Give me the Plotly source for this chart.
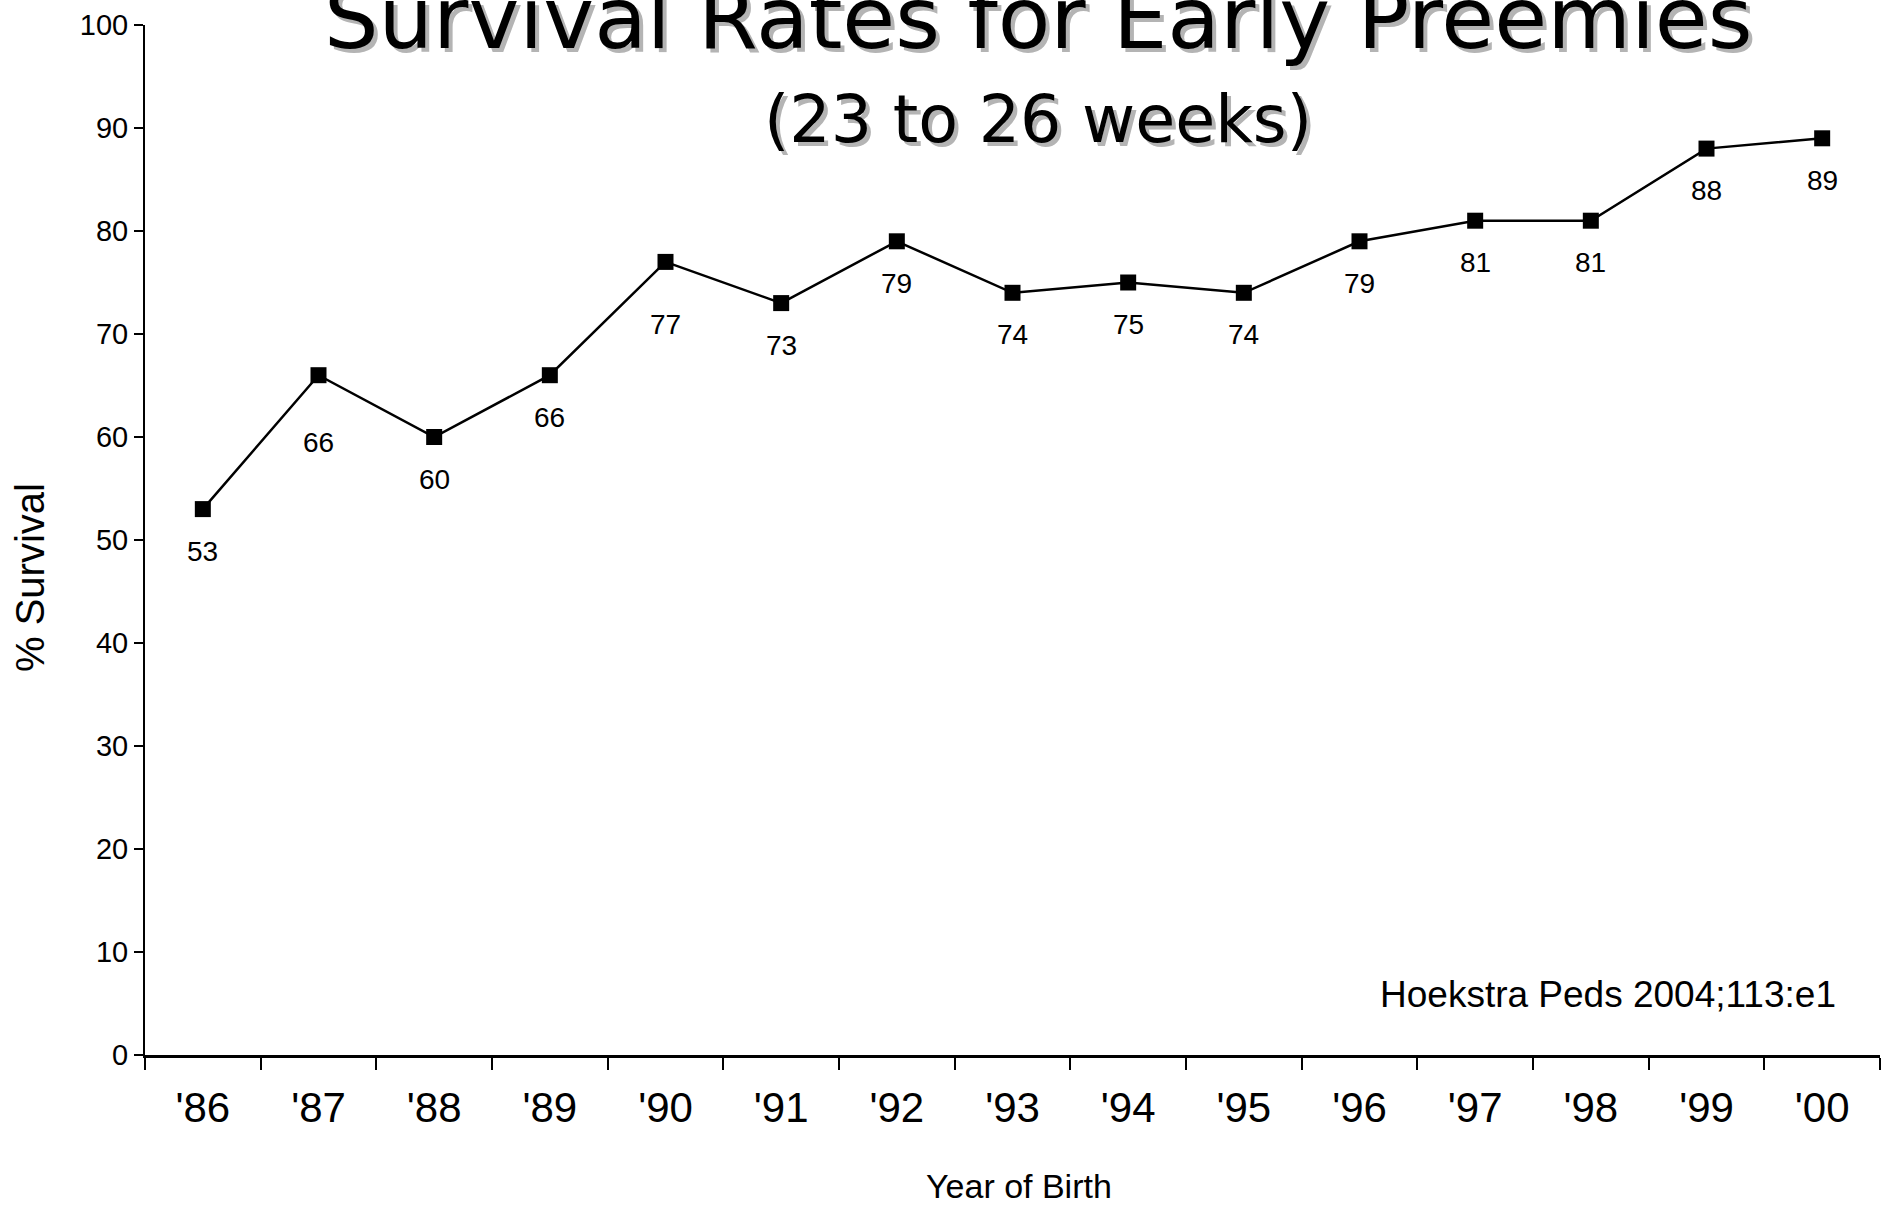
import plotly.graph_objects as go

years = ["'86", "'87", "'88", "'89", "'90", "'91", "'92", "'93", "'94", "'95",
         "'96", "'97", "'98", "'99", "'00"]
survival = [53, 66, 60, 66, 77, 73, 79, 74, 75, 74, 79, 81, 81, 88, 89]
y_ticks = [0, 10, 20, 30, 40, 50, 60, 70, 80, 90, 100]

# vertical distance (px) of each value label below its marker
label_drop = [42, 67, 42, 42, 63, 42, 42, 42, 42, 42, 42, 42, 42, 42, 42]

title_line1 = "Survival Rates for Early Preemies"
title_line2 = "(23 to 26 weeks)"
source_note = "Hoekstra Peds 2004;113:e1"

W, H = 1890, 1205
ML, MR, MT, MB = 145, 10, 25, 150

fig = go.Figure()
fig.add_trace(go.Scatter(
    x=years, y=survival, mode="lines+markers",
    line=dict(color="black", width=2.5),
    marker=dict(symbol="square", size=16, color="black"),
    hoverinfo="skip", showlegend=False,
))

annotations = []
for xv, yv, d in zip(years, survival, label_drop):
    annotations.append(dict(
        x=xv, y=yv, xref="x", yref="y", text=str(yv), showarrow=False,
        xanchor="center", yanchor="middle", yshift=-d,
        font=dict(family="Liberation Sans, Arial, sans-serif", size=28, color="black"),
    ))

title_font = "DejaVu Sans, Verdana, sans-serif"
tx = 0.5147
for text, ty, size in [(title_line1, 1.0068, 86), (title_line2, 0.9078, 65)]:
    annotations.append(dict(
        x=tx, y=ty, xref="paper", yref="paper", text=text, showarrow=False,
        xanchor="center", yanchor="middle", xshift=4, yshift=-4,
        font=dict(family=title_font, size=size, color="#b4b4b4"),
    ))
    annotations.append(dict(
        x=tx, y=ty, xref="paper", yref="paper", text=text, showarrow=False,
        xanchor="center", yanchor="middle",
        font=dict(family=title_font, size=size, color="black"),
    ))

annotations.append(dict(
    x=0.504, y=-0.127, xref="paper", yref="paper", text="Year of Birth",
    showarrow=False, xanchor="center", yanchor="middle",
    font=dict(family="Liberation Sans, Arial, sans-serif", size=34, color="black"),
))
annotations.append(dict(
    x=-0.0663, y=0.464, xref="paper", yref="paper", text="% Survival",
    showarrow=False, xanchor="center", yanchor="middle", textangle=-90,
    font=dict(family="Liberation Sans, Arial, sans-serif", size=40, color="black"),
))
annotations.append(dict(
    x=0.9758, y=0.0583, xref="paper", yref="paper", text=source_note,
    showarrow=False, xanchor="right", yanchor="middle",
    font=dict(family="Liberation Sans, Arial, sans-serif", size=37, color="black"),
))

fig.update_layout(
    width=W, height=H,
    margin=dict(l=ML, r=MR, t=MT, b=MB, pad=0),
    paper_bgcolor="white", plot_bgcolor="white",
    annotations=annotations,
    xaxis=dict(
        type="category", categoryorder="array", categoryarray=years,
        range=[-0.5, len(years) - 0.5],
        tickson="boundaries", ticks="outside", ticklen=12, tickwidth=2,
        tickcolor="black", showline=True, linecolor="black", linewidth=3,
        showgrid=False, zeroline=False, ticklabelstandoff=14,
        tickfont=dict(family="Liberation Sans, Arial, sans-serif",
                      size=42, color="black"),
    ),
    yaxis=dict(
        range=[0, 100], tickvals=y_ticks, ticktext=[str(v) for v in y_ticks],
        ticks="outside", ticklen=9, tickwidth=2, tickcolor="black",
        showline=True, linecolor="black", linewidth=2,
        showgrid=False, zeroline=False,
        tickfont=dict(family="Liberation Sans, Arial, sans-serif", size=29, color="black"),
    ),
)

fig.write_html(
    "out.html",
    config={"displayModeBar": False},
    post_script="document.body.style.margin='0';document.body.style.overflow='hidden';",
)
